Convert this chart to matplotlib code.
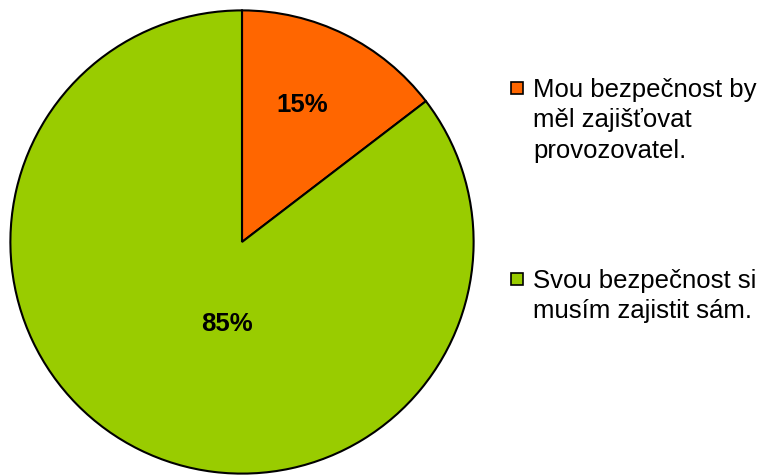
import matplotlib
matplotlib.use("Agg")
import matplotlib.pyplot as plt
from matplotlib.patches import Rectangle

plt.rcParams['font.family'] = ['Liberation Sans', 'DejaVu Sans']

# data
labels = ["Mou bezpečnost by\nměl zajišťovat\nprovozovatel.",
          "Svou bezpečnost si\nmusím zajistit sám."]
values = [14.6, 85.4]
colors = ["#FF6600", "#99CC00"]
label_pos = [(0.262, 0.592), (-0.064, -0.352)]  # where excel put the % labels

W, H = 763, 476
fig = plt.figure(figsize=(W / 100, H / 100), dpi=100)

# pie axes: center ~(242,242) px, radius ~233 px
r_px = 233
cx, cy = 242, 242
ax = fig.add_axes([(cx - r_px) / W, (H - cy - r_px) / H, 2 * r_px / W, 2 * r_px / H])
wedges, texts, autotexts = ax.pie(
    values, colors=colors, startangle=90, counterclock=False,
    autopct='%.0f%%',
    wedgeprops=dict(edgecolor='black', linewidth=1.5),
    textprops=dict(fontsize=18.5, fontweight='bold', color='black'))
for t, p in zip(autotexts, label_pos):
    t.set_position(p)
ax.set_xlim(-1.006, 1.006)
ax.set_ylim(-1.006, 1.006)
ax.set_aspect('equal')
ax.axis('off')

# legend, drawn by hand so the marker sits on the first line
leg_tops = [78, 269]
for lab, col, top in zip(labels, colors, leg_tops):
    fig.patches.append(Rectangle((511 / W, (H - top - 16) / H), 12 / W, 12 / H,
                                 transform=fig.transFigure, facecolor=col,
                                 edgecolor='black', linewidth=1.2))
    fig.text(533 / W, (H - top) / H, lab, fontsize=18.5, va='top', ha='left',
             linespacing=1.33)

fig.savefig("out.png", dpi=100)
